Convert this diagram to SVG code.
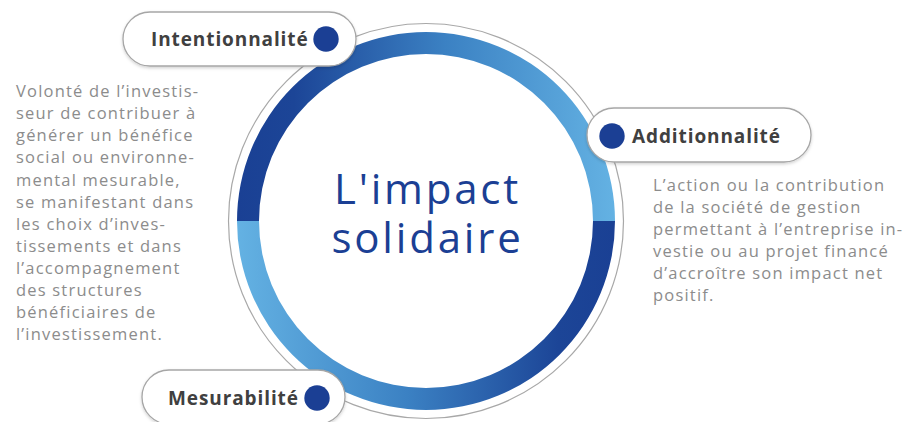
<svg xmlns="http://www.w3.org/2000/svg" width="910" height="422" viewBox="0 0 910 422">
<defs>
<linearGradient id="gTop" gradientUnits="userSpaceOnUse" x1="237" y1="0" x2="615" y2="0">
<stop offset="0" stop-color="#1a4094"/>
<stop offset="0.15" stop-color="#1c4597"/>
<stop offset="0.55" stop-color="#3b81c3"/>
<stop offset="1" stop-color="#64b2e3"/>
</linearGradient>
<linearGradient id="gBot" gradientUnits="userSpaceOnUse" x1="237" y1="0" x2="615" y2="0">
<stop offset="0" stop-color="#64b2e3"/>
<stop offset="0.45" stop-color="#3b81c3"/>
<stop offset="0.85" stop-color="#1c4597"/>
<stop offset="1" stop-color="#1a4094"/>
</linearGradient>
<filter id="sh" x="-10%" y="-30%" width="120%" height="170%">
<feDropShadow dx="0" dy="1.5" stdDeviation="1.5" flood-color="#000" flood-opacity="0.18"/>
</filter>
</defs>
<style>
.pill{fill:#fff;stroke:#a6a6a6;stroke-width:1.3}
.lbl{font-family:"Open Sans","Liberation Sans",sans-serif;font-weight:700;font-size:19px;letter-spacing:0.9px;fill:#404040}
.dot{fill:#1b3f94}
.desc{font-family:"Open Sans","Liberation Sans",sans-serif;font-size:16.5px;letter-spacing:1.2px;fill:#8c8c8c}
.title{font-family:"Open Sans","Liberation Sans",sans-serif;font-size:42px;letter-spacing:2.8px;fill:#1b3f94;text-anchor:middle}
</style>
<g id="center">
<circle cx="426" cy="221" r="197.5" fill="#fff" stroke="#a8a8a8" stroke-width="1.2"/>
<path d="M 237 221 A 189 189 0 0 1 615 221 L 593 221 A 167 167 0 0 0 259 221 Z" fill="url(#gTop)"/>
<path d="M 237 221 A 189 189 0 0 0 615 221 L 593 221 A 167 167 0 0 1 259 221 Z" fill="url(#gBot)"/>
<text class="title" x="427.5" y="204">L'impact</text>
<text class="title" x="427.5" y="253">solidaire</text>
</g>
<g id="desc-intentionnalite">
<text class="desc" x="16" y="97">Volonté de l’investis-</text>
<text class="desc" x="16" y="119">seur de contribuer à</text>
<text class="desc" x="16" y="141">générer un bénéfice</text>
<text class="desc" x="16" y="163">social ou environne-</text>
<text class="desc" x="16" y="186">mental mesurable,</text>
<text class="desc" x="16" y="208">se manifestant dans</text>
<text class="desc" x="16" y="230">les choix d’inves-</text>
<text class="desc" x="16" y="252">tissements et dans</text>
<text class="desc" x="16" y="274">l’accompagnement</text>
<text class="desc" x="16" y="296">des structures</text>
<text class="desc" x="16" y="318">bénéficiaires de</text>
<text class="desc" x="16" y="340">l’investissement.</text>
</g>
<g id="desc-additionnalite">
<text class="desc" x="653" y="191">L’action ou la contribution</text>
<text class="desc" x="653" y="213">de la société de gestion</text>
<text class="desc" x="653" y="235">permettant à l’entreprise in-</text>
<text class="desc" x="653" y="257">vestie ou au projet financé</text>
<text class="desc" x="653" y="279">d’accroître son impact net</text>
<text class="desc" x="653" y="301">positif.</text>
</g>
<g id="node-intentionnalite">
<rect class="pill" x="123" y="12" width="233" height="54" rx="27" filter="url(#sh)"/>
<text class="lbl" x="151" y="46">Intentionnalité</text>
<circle class="dot" cx="326" cy="39" r="12.7"/>
</g>
<g id="node-additionnalite">
<rect class="pill" x="587" y="108" width="224" height="54" rx="27" filter="url(#sh)"/>
<circle class="dot" cx="612" cy="136" r="12.7"/>
<text class="lbl" x="632" y="143">Additionnalité</text>
</g>
<g id="node-mesurabilite">
<rect class="pill" x="142" y="370" width="203" height="54" rx="27" filter="url(#sh)"/>
<text class="lbl" x="168" y="405">Mesurabilité</text>
<circle class="dot" cx="317" cy="398" r="12.7"/>
</g>
</svg>
